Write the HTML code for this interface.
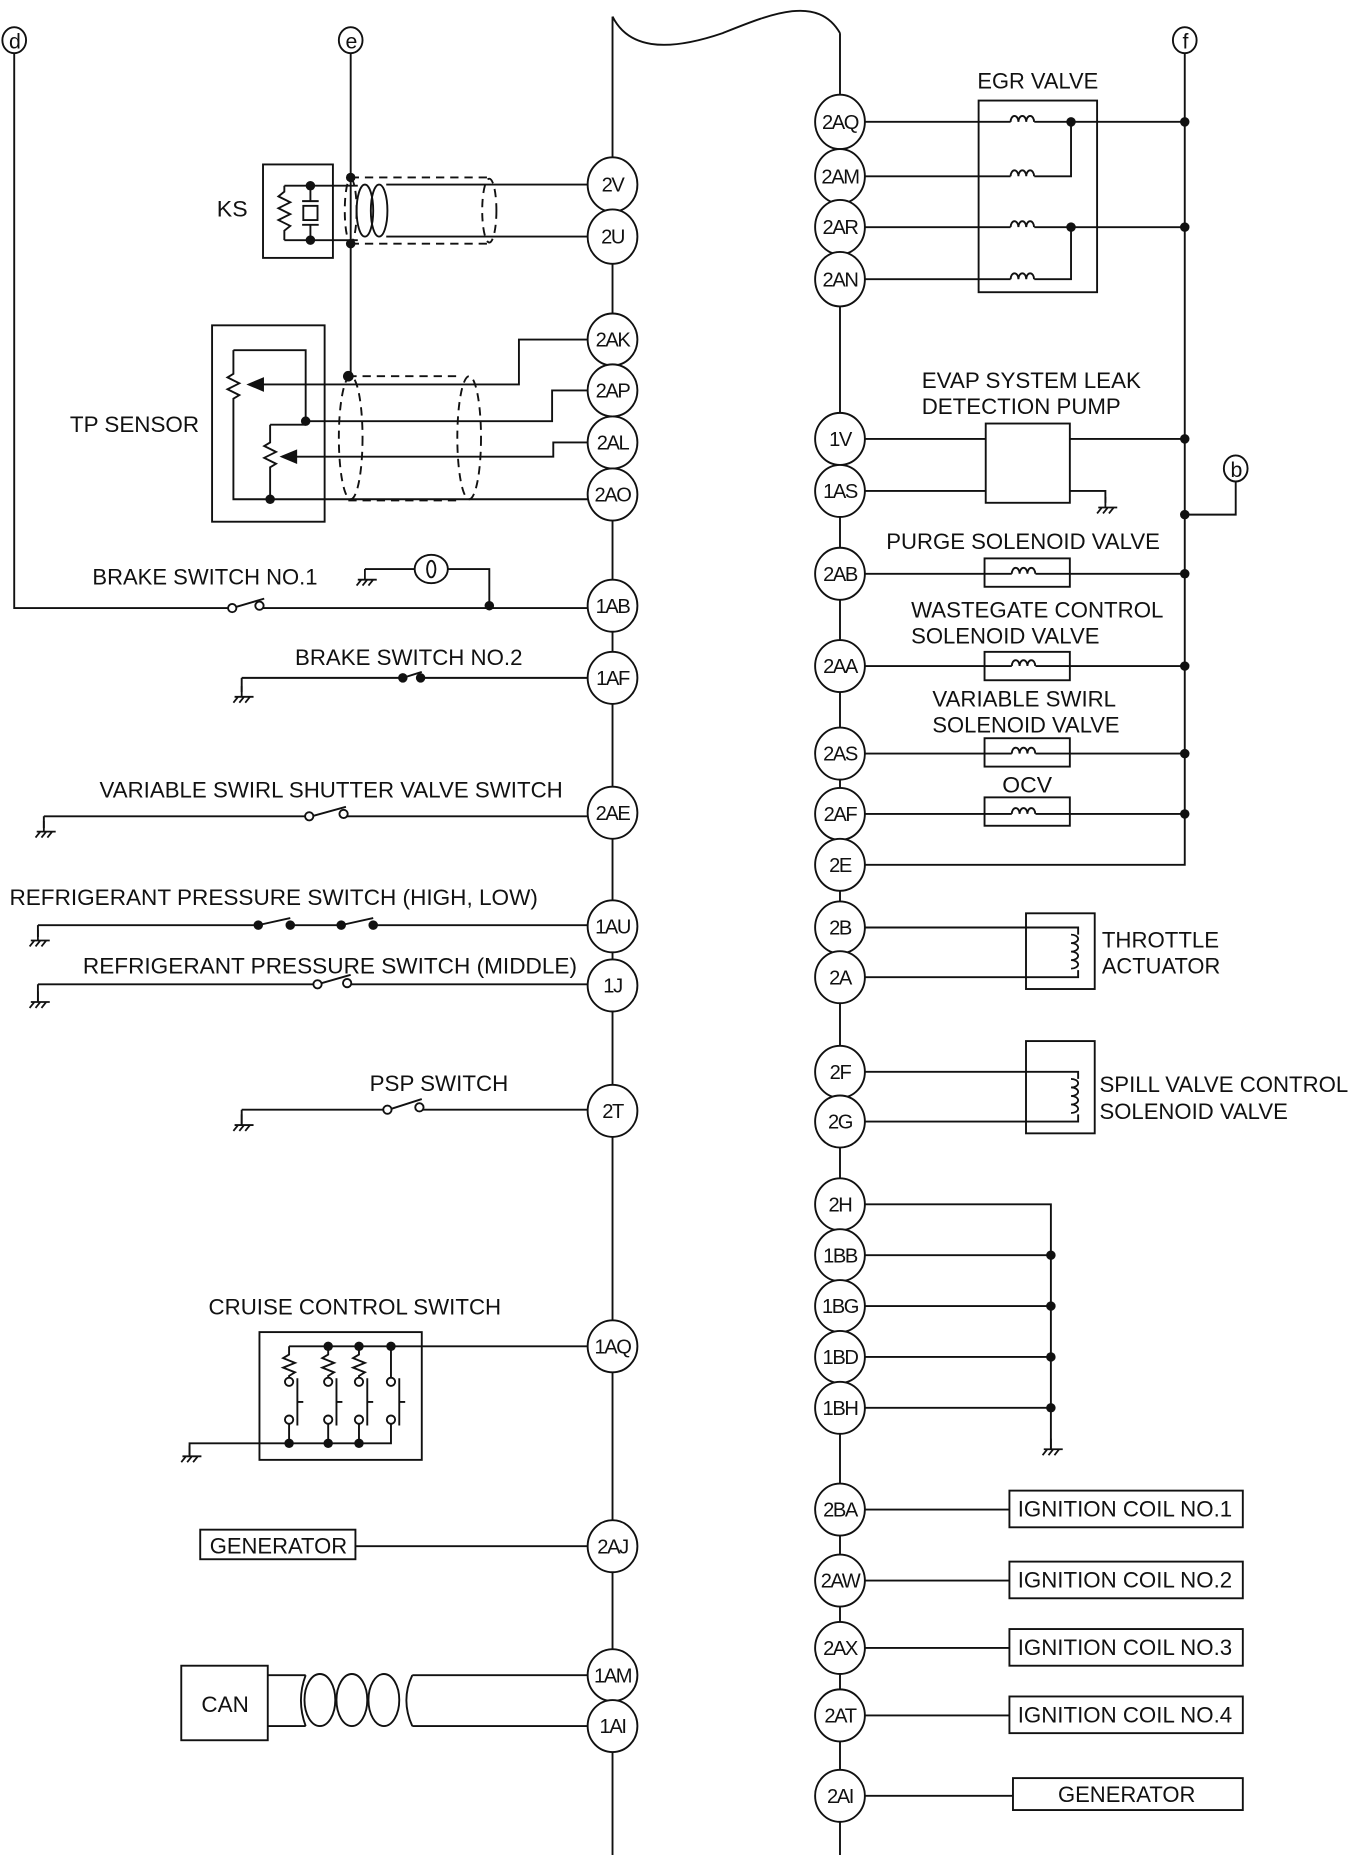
<!DOCTYPE html>
<html><head><meta charset="utf-8"><style>
html,body{margin:0;padding:0;background:#fff;}
svg{display:block;}
text{font-family:"Liberation Sans",sans-serif;fill:#111;}
.l{font-size:19px;}
.t{font-size:17px;text-anchor:middle;letter-spacing:-1.2px;}
</style></head><body>
<svg width="1353" height="1855" viewBox="0 0 1142 1568" preserveAspectRatio="none" xmlns="http://www.w3.org/2000/svg">
<defs>
<path id="gnd" d="M0,0 v9 M-6,9 h16 M-3,9 l-4,5 M2,9 l-4,5 M7,9 l-4,5" stroke="#111" stroke-width="1.5" fill="none"/>
<path id="coil" d="M0,0 a3.3,5 0 1,1 6.6,0 a3.3,5 0 1,1 6.6,0 a3.3,5 0 1,1 6.6,0" stroke="#111" stroke-width="1.6" fill="none"/>
<path id="vcoil" d="M0,0 a6,3.6 0 1,1 0,7.2 a6,3.6 0 1,1 0,7.2 a6,3.6 0 1,1 0,7.2 a6,3.6 0 1,1 0,7.2" stroke="#111" stroke-width="1.5" fill="none"/>
</defs>
<g stroke="#111" stroke-width="1.6" fill="none">
<path d="M517,14 V1568 M709,28 V1568"/>
<path d="M517,14 C530,40 560,45 610,28 C650,12 690,-5 709,28"/>
<ellipse cx="12" cy="34" rx="10" ry="11"/><ellipse cx="296" cy="34" rx="10" ry="11"/><ellipse cx="1000" cy="34" rx="10" ry="11"/><ellipse cx="1043" cy="396" rx="10" ry="11"/>
<path d="M12,45 V514 H192 M222,514 H496"/>
<path d="M196,514 L223,506"/><circle cx="196" cy="514" r="3.5" fill="#fff"/><circle cx="219" cy="512" r="3.5" fill="#fff"/>
<path d="M413,514 V481 H378 M350,481 H308"/><ellipse cx="364" cy="481" rx="14" ry="12"/><ellipse cx="364" cy="481" rx="3.5" ry="7"/>
<use href="#gnd" x="308" y="481"/>
<path d="M296,45 V318"/>
<!-- KS -->
<rect x="222" y="139" width="59" height="79"/>
<path d="M240,157 H262 M240,203 H262 M240,157 V162 l-5,4 l10,5 l-10,5 l10,5 l-10,5 l10,5 l-5,4 V203"/>
<path d="M262,157 V170 M262,190 V203 M255,170 H269 M255,190 H269"/><rect x="256" y="174" width="12" height="12"/>
<path d="M262,157 H302 M262,203 H302 M326,156 H496 M326,200 H496"/>
<ellipse cx="308" cy="178" rx="7" ry="22"/><ellipse cx="320" cy="178" rx="7" ry="22"/>
<path d="M296,150 H415 M296,206 H415" stroke-dasharray="7,5"/>
<ellipse cx="413" cy="178" rx="6" ry="27" stroke-dasharray="7,5"/><ellipse cx="296" cy="178" rx="5" ry="27" stroke-dasharray="7,5"/>
<!-- TP sensor -->
<rect x="179" y="275" width="95" height="166"/>
<path d="M197,296 H258 V356 M197,296 V316 l-5,3 l10,5 l-10,5 l10,5 l-5,3 V422 H228 M258,356 H466 V330 H496 M228,359 V374 l-5,3 l10,5 l-10,5 l10,5 l-5,3 V422 M228,359 H258 M228,422 H496"/>
<path d="M218,325 H438 V287 H496 M246,386 H467 V374 H496"/>
<path d="M210,325 l12,-5 v10z M238,386 l12,-5 v10z" fill="#111"/>
<path d="M294,318 H390 M294,423 H390" stroke-dasharray="7,5"/>
<ellipse cx="296" cy="370" rx="10" ry="52" stroke-dasharray="7,5"/><ellipse cx="396" cy="370" rx="10" ry="52" stroke-dasharray="7,5"/>
<!-- brake 2 -->
<path d="M204,573 H340 M355,573 H496 M204,573 V585"/><path d="M340,573 L356,568"/>
<use href="#gnd" x="204" y="580"/>
<!-- swirl switch -->
<path d="M37,690 H260 M290,690 H496 M37,690 V700 M263,690 L292,682"/><use href="#gnd" x="37" y="694"/>
<circle cx="261" cy="690" r="3.5" fill="#fff"/><circle cx="290" cy="688" r="3.5" fill="#fff"/>
<!-- refrigerant high low -->
<path d="M32,782 H218 M218,782 L245,776 M245,782 H288 M288,782 L315,776 M315,782 H496 M32,782 V792"/><use href="#gnd" x="32" y="786"/>
<!-- middle -->
<path d="M32,832 H266 M268,832 L296,824 M296,832 H496 M32,832 V846"/><use href="#gnd" x="32" y="838"/>
<circle cx="268" cy="832" r="3.5" fill="#fff"/><circle cx="293" cy="831" r="3.5" fill="#fff"/>
<!-- PSP -->
<path d="M204,938 H326 M356,938 H496 M204,938 V950 M328,938 L356,929"/><use href="#gnd" x="204" y="942"/>
<circle cx="327" cy="938" r="3.5" fill="#fff"/><circle cx="354" cy="936" r="3.5" fill="#fff"/>
<!-- cruise -->
<rect x="219" y="1126" width="137" height="108"/>
<path d="M244,1138 H496"/>
<path d="M244,1138 V1145 l-5,3 l10,4 l-10,4 l10,4 l-5,3 V1164 M277,1138 V1145 l-5,3 l10,4 l-10,4 l10,4 l-5,3 V1164 M303,1138 V1145 l-5,3 l10,4 l-10,4 l10,4 l-5,3 V1164 M330,1138 V1164"/>
<path d="M160,1230 V1220 H330 V1204 M244,1220 V1204 M277,1220 V1204 M303,1220 V1204"/>
<path d="M251,1165 V1205 M251,1185 H256 M284,1165 V1205 M284,1185 H289 M310,1165 V1205 M310,1185 H315 M337,1165 V1205 M337,1185 H342"/>
<circle cx="244" cy="1168" r="3.5" fill="#fff"/><circle cx="277" cy="1168" r="3.5" fill="#fff"/><circle cx="303" cy="1168" r="3.5" fill="#fff"/><circle cx="330" cy="1168" r="3.5" fill="#fff"/>
<circle cx="244" cy="1200" r="3.5" fill="#fff"/><circle cx="277" cy="1200" r="3.5" fill="#fff"/><circle cx="303" cy="1200" r="3.5" fill="#fff"/><circle cx="330" cy="1200" r="3.5" fill="#fff"/>
<use href="#gnd" x="160" y="1222"/>
<!-- generator left -->
<rect x="169" y="1293" width="131" height="25"/><path d="M300,1307 H496"/>
<!-- CAN -->
<rect x="153" y="1408" width="73" height="63"/>
<path d="M226,1416 H258 M226,1459 H258 M348,1416 H496 M348,1459 H496"/>
<ellipse cx="270" cy="1437" rx="13" ry="22"/><ellipse cx="297" cy="1437" rx="13" ry="22"/><ellipse cx="324" cy="1437" rx="13" ry="22"/><path d="M258,1416 Q250,1437 258,1459 M348,1416 Q338,1437 348,1459"/>
<!-- RIGHT: EGR -->
<rect x="826" y="85" width="100" height="162"/>
<path d="M730,103 H853 M873,103 H1000 M730,149 H853 M873,149 H904 V103 M730,192 H853 M873,192 H1000 M730,236 H853 M873,236 H904 V192"/>
<use href="#coil" x="853" y="103"/><use href="#coil" x="853" y="149"/><use href="#coil" x="853" y="192"/><use href="#coil" x="853" y="236"/>
<path d="M1000,45 V731 H730 M1000,435 H1043 V407"/>
<rect x="832" y="358" width="71" height="67"/>
<path d="M730,371 H832 M903,371 H1000 M730,415 H832 M903,415 H933 V425"/><use href="#gnd" x="933" y="420"/>
<rect x="831" y="472" width="72" height="24"/><path d="M730,485 H854 M874,485 H1000"/><use href="#coil" x="854" y="485"/>
<rect x="831" y="551" width="72" height="24"/><path d="M730,563 H854 M874,563 H1000"/><use href="#coil" x="854" y="563"/>
<rect x="831" y="624" width="72" height="24"/><path d="M730,637 H854 M874,637 H1000"/><use href="#coil" x="854" y="637"/>
<rect x="831" y="674" width="72" height="24"/><path d="M730,688 H854 M874,688 H1000"/><use href="#coil" x="854" y="688"/>
<rect x="866" y="772" width="58" height="64"/><path d="M730,784 H910 V790 M730,826 H910 V820"/><use href="#vcoil" x="904" y="790"/>
<rect x="866" y="880" width="58" height="78"/><path d="M730,906 H910 V912 M730,948 H910 V942"/><use href="#vcoil" x="904" y="912"/>
<path d="M730,1018 H887 V1225 M730,1061 H887 M730,1104 H887 M730,1147 H887 M730,1190 H887"/><use href="#gnd" x="887" y="1216"/>
<rect x="852" y="1260" width="197" height="31"/><path d="M730,1276 H852"/>
<rect x="852" y="1320" width="197" height="31"/><path d="M730,1336 H852"/>
<rect x="852" y="1377" width="197" height="31"/><path d="M730,1393 H852"/>
<rect x="852" y="1434" width="197" height="31"/><path d="M730,1450 H852"/>
<rect x="855" y="1503" width="194" height="27"/><path d="M730,1518 H855"/>
</g>
<g fill="#111">
<circle cx="413" cy="512" r="4"/><circle cx="296" cy="150" r="4"/><circle cx="296" cy="206" r="4"/><circle cx="294" cy="318" r="4.5"/>
<circle cx="262" cy="157" r="4"/><circle cx="262" cy="203" r="4"/><circle cx="258" cy="356" r="4"/><circle cx="228" cy="422" r="4"/>
<circle cx="340" cy="573" r="4"/><circle cx="355" cy="573" r="4"/>
<circle cx="218" cy="782" r="4"/><circle cx="245" cy="782" r="4"/><circle cx="288" cy="782" r="4"/><circle cx="315" cy="782" r="4"/>
<circle cx="277" cy="1138" r="4"/><circle cx="303" cy="1138" r="4"/><circle cx="330" cy="1138" r="4"/>
<circle cx="244" cy="1220" r="4"/><circle cx="277" cy="1220" r="4"/><circle cx="303" cy="1220" r="4"/>
<circle cx="904" cy="103" r="4"/><circle cx="904" cy="192" r="4"/>
<circle cx="1000" cy="103" r="4"/><circle cx="1000" cy="192" r="4"/><circle cx="1000" cy="371" r="4"/><circle cx="1000" cy="435" r="4"/><circle cx="1000" cy="485" r="4"/><circle cx="1000" cy="563" r="4"/><circle cx="1000" cy="637" r="4"/><circle cx="1000" cy="688" r="4"/>
<circle cx="887" cy="1061" r="4"/><circle cx="887" cy="1104" r="4"/><circle cx="887" cy="1147" r="4"/><circle cx="887" cy="1190" r="4"/>
</g>
<g stroke="#111" stroke-width="1.6" fill="#fff">
<ellipse cx="517" cy="156" rx="21" ry="23"/><ellipse cx="517" cy="200" rx="21" ry="23"/><ellipse cx="517" cy="287" rx="21" ry="22"/><ellipse cx="517" cy="330" rx="21" ry="22"/><ellipse cx="517" cy="374" rx="21" ry="22"/><ellipse cx="517" cy="418" rx="21" ry="22"/>
<ellipse cx="517" cy="512" rx="21" ry="22"/><ellipse cx="517" cy="573" rx="21" ry="22"/><ellipse cx="517" cy="687" rx="21" ry="22"/><ellipse cx="517" cy="783" rx="21" ry="22"/><ellipse cx="517" cy="833" rx="21" ry="22"/><ellipse cx="517" cy="939" rx="21" ry="22"/>
<ellipse cx="517" cy="1138" rx="21" ry="22"/><ellipse cx="517" cy="1307" rx="21" ry="22"/><ellipse cx="517" cy="1416" rx="21" ry="22"/><ellipse cx="517" cy="1459" rx="21" ry="22"/>
<ellipse cx="709" cy="103" rx="21" ry="23"/><ellipse cx="709" cy="149" rx="21" ry="23"/><ellipse cx="709" cy="192" rx="21" ry="23"/><ellipse cx="709" cy="236" rx="21" ry="23"/>
<ellipse cx="709" cy="371" rx="21" ry="22"/><ellipse cx="709" cy="415" rx="21" ry="22"/><ellipse cx="709" cy="485" rx="21" ry="22"/><ellipse cx="709" cy="563" rx="21" ry="22"/><ellipse cx="709" cy="637" rx="21" ry="22"/><ellipse cx="709" cy="688" rx="21" ry="22"/><ellipse cx="709" cy="731" rx="21" ry="22"/>
<ellipse cx="709" cy="784" rx="21" ry="22"/><ellipse cx="709" cy="826" rx="21" ry="22"/><ellipse cx="709" cy="906" rx="21" ry="22"/><ellipse cx="709" cy="948" rx="21" ry="22"/>
<ellipse cx="709" cy="1018" rx="21" ry="22"/><ellipse cx="709" cy="1061" rx="21" ry="22"/><ellipse cx="709" cy="1104" rx="21" ry="22"/><ellipse cx="709" cy="1147" rx="21" ry="22"/><ellipse cx="709" cy="1190" rx="21" ry="22"/>
<ellipse cx="709" cy="1276" rx="21" ry="22"/><ellipse cx="709" cy="1336" rx="21" ry="22"/><ellipse cx="709" cy="1393" rx="21" ry="22"/><ellipse cx="709" cy="1450" rx="21" ry="22"/><ellipse cx="709" cy="1518" rx="21" ry="22"/>
</g>
<g>
<text x="517" y="162" class="t">2V</text><text x="517" y="206" class="t">2U</text><text x="517" y="293" class="t">2AK</text><text x="517" y="336" class="t">2AP</text><text x="517" y="380" class="t">2AL</text><text x="517" y="424" class="t">2AO</text>
<text x="517" y="518" class="t">1AB</text><text x="517" y="579" class="t">1AF</text><text x="517" y="693" class="t">2AE</text><text x="517" y="789" class="t">1AU</text><text x="517" y="839" class="t">1J</text><text x="517" y="945" class="t">2T</text>
<text x="517" y="1144" class="t">1AQ</text><text x="517" y="1313" class="t">2AJ</text><text x="517" y="1422" class="t">1AM</text><text x="517" y="1465" class="t">1AI</text>
<text x="709" y="109" class="t">2AQ</text><text x="709" y="155" class="t">2AM</text><text x="709" y="198" class="t">2AR</text><text x="709" y="242" class="t">2AN</text>
<text x="709" y="377" class="t">1V</text><text x="709" y="421" class="t">1AS</text><text x="709" y="491" class="t">2AB</text><text x="709" y="569" class="t">2AA</text><text x="709" y="643" class="t">2AS</text><text x="709" y="694" class="t">2AF</text><text x="709" y="737" class="t">2E</text>
<text x="709" y="790" class="t">2B</text><text x="709" y="832" class="t">2A</text><text x="709" y="912" class="t">2F</text><text x="709" y="954" class="t">2G</text>
<text x="709" y="1024" class="t">2H</text><text x="709" y="1067" class="t">1BB</text><text x="709" y="1110" class="t">1BG</text><text x="709" y="1153" class="t">1BD</text><text x="709" y="1196" class="t">1BH</text>
<text x="709" y="1282" class="t">2BA</text><text x="709" y="1342" class="t">2AW</text><text x="709" y="1399" class="t">2AX</text><text x="709" y="1456" class="t">2AT</text><text x="709" y="1524" class="t">2AI</text>
<text x="12" y="41" class="t" style="font-size:18px">d</text><text x="296" y="41" class="t" style="font-size:18px">e</text><text x="1000" y="41" class="t" style="font-size:18px">f</text><text x="1043" y="403" class="t" style="font-size:18px">b</text>
</g>
<g>
<text x="183" y="183" class="l" textLength="26" lengthAdjust="spacingAndGlyphs">KS</text>
<text x="59" y="365" class="l" textLength="109" lengthAdjust="spacingAndGlyphs">TP SENSOR</text>
<text x="78" y="494" class="l" textLength="190" lengthAdjust="spacingAndGlyphs">BRAKE SWITCH NO.1</text>
<text x="249" y="562" class="l" textLength="192" lengthAdjust="spacingAndGlyphs">BRAKE SWITCH NO.2</text>
<text x="84" y="674" class="l" textLength="391" lengthAdjust="spacingAndGlyphs">VARIABLE SWIRL SHUTTER VALVE SWITCH</text>
<text x="8" y="765" class="l" textLength="446" lengthAdjust="spacingAndGlyphs">REFRIGERANT PRESSURE  SWITCH (HIGH, LOW)</text>
<text x="70" y="823" class="l" textLength="417" lengthAdjust="spacingAndGlyphs">REFRIGERANT PRESSURE  SWITCH (MIDDLE)</text>
<text x="312" y="922" class="l" textLength="117" lengthAdjust="spacingAndGlyphs">PSP SWITCH</text>
<text x="176" y="1111" class="l" textLength="247" lengthAdjust="spacingAndGlyphs">CRUISE CONTROL SWITCH</text>
<text x="177" y="1313" class="l" textLength="116" lengthAdjust="spacingAndGlyphs">GENERATOR</text>
<text x="170" y="1447" class="l" textLength="40" lengthAdjust="spacingAndGlyphs">CAN</text>
<text x="825" y="75" class="l" textLength="102" lengthAdjust="spacingAndGlyphs">EGR VALVE</text>
<text x="778" y="328" class="l" textLength="185" lengthAdjust="spacingAndGlyphs">EVAP SYSTEM LEAK</text>
<text x="778" y="350" class="l" textLength="168" lengthAdjust="spacingAndGlyphs">DETECTION PUMP</text>
<text x="748" y="464" class="l" textLength="231" lengthAdjust="spacingAndGlyphs">PURGE SOLENOID VALVE</text>
<text x="769" y="522" class="l" textLength="213" lengthAdjust="spacingAndGlyphs">WASTEGATE CONTROL</text>
<text x="769" y="544" class="l" textLength="159" lengthAdjust="spacingAndGlyphs">SOLENOID VALVE</text>
<text x="787" y="597" class="l" textLength="155" lengthAdjust="spacingAndGlyphs">VARIABLE SWIRL</text>
<text x="787" y="619" class="l" textLength="158" lengthAdjust="spacingAndGlyphs">SOLENOID VALVE</text>
<text x="846" y="670" class="l" textLength="42" lengthAdjust="spacingAndGlyphs">OCV</text>
<text x="930" y="801" class="l" textLength="99" lengthAdjust="spacingAndGlyphs">THROTTLE</text>
<text x="930" y="823" class="l" textLength="100" lengthAdjust="spacingAndGlyphs">ACTUATOR</text>
<text x="928" y="923" class="l" textLength="210" lengthAdjust="spacingAndGlyphs">SPILL VALVE CONTROL</text>
<text x="928" y="946" class="l" textLength="159" lengthAdjust="spacingAndGlyphs">SOLENOID VALVE</text>
<text x="859" y="1282" class="l" textLength="181" lengthAdjust="spacingAndGlyphs">IGNITION COIL NO.1</text>
<text x="859" y="1342" class="l" textLength="181" lengthAdjust="spacingAndGlyphs">IGNITION COIL NO.2</text>
<text x="859" y="1399" class="l" textLength="181" lengthAdjust="spacingAndGlyphs">IGNITION COIL NO.3</text>
<text x="859" y="1456" class="l" textLength="181" lengthAdjust="spacingAndGlyphs">IGNITION COIL NO.4</text>
<text x="893" y="1523" class="l" textLength="116" lengthAdjust="spacingAndGlyphs">GENERATOR</text>
</g>
</svg>
</body></html>
